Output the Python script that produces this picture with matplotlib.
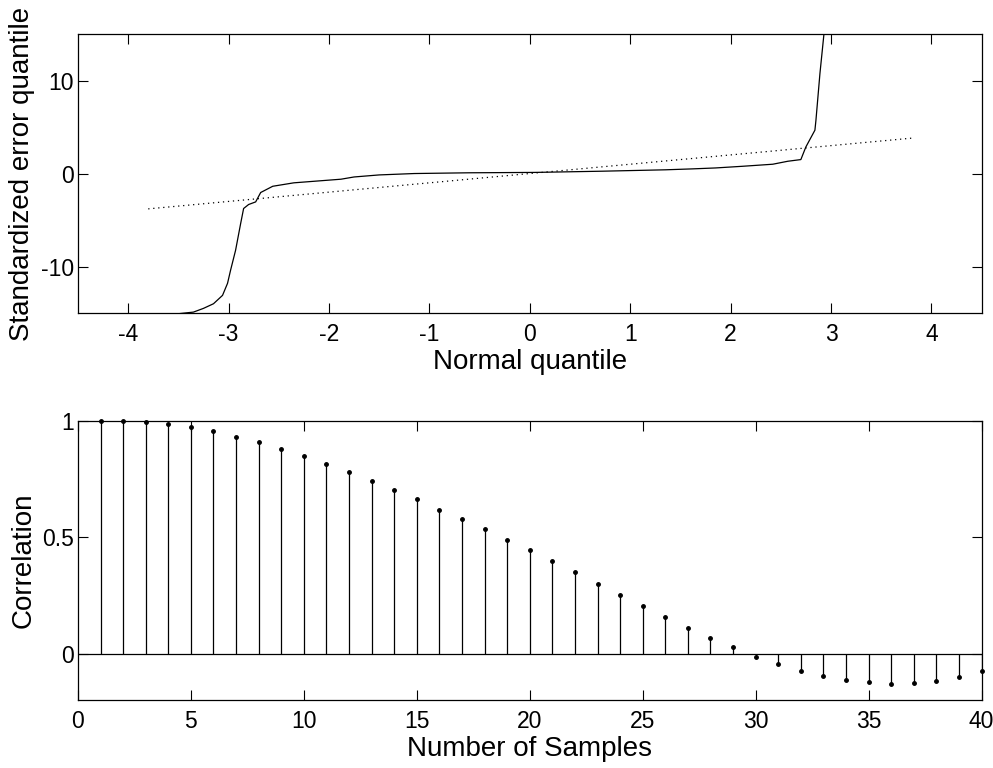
import matplotlib
matplotlib.use("Agg")
import matplotlib.pyplot as plt
import numpy as np

plt.rcParams['font.family'] = ['Liberation Sans', 'DejaVu Sans']

# --- Top panel: QQ plot data ---
qq_x = [-3.48, -3.35, -3.25, -3.15, -3.06, -3.01, -2.98, -2.93, -2.88, -2.85,
        -2.80, -2.73, -2.68, -2.56, -2.35, -1.88, -1.75, -1.50, -1.15, -0.60,
        0.05, 0.72, 1.35, 1.62, 1.85, 2.12, 2.42, 2.57, 2.70, 2.75, 2.84,
        2.85, 2.89, 2.93, 2.95]
qq_y = [-15.05, -14.9, -14.5, -14.0, -13.1, -11.8, -10.4, -8.25, -5.4, -3.76,
        -3.33, -3.05, -2.04, -1.37, -1.0, -0.61, -0.37, -0.15, 0.0, 0.08,
        0.12, 0.25, 0.40, 0.50, 0.60, 0.78, 1.0, 1.32, 1.5, 2.86, 4.66,
        5.7, 10.75, 15.0, 17.0]
ref_x = [-3.8, 3.8]
ref_y = [-3.8, 3.8]

# --- Bottom panel: correlation vs lag ---
lags = list(range(1, 41))
corr = [1.000, 0.999, 0.995, 0.987, 0.976, 0.956, 0.932, 0.908, 0.881, 0.849,
        0.815, 0.780, 0.742, 0.702, 0.663, 0.618, 0.579, 0.536, 0.489, 0.446,
        0.399, 0.351, 0.301, 0.250, 0.203, 0.156, 0.109, 0.067, 0.028, -0.015,
        -0.045, -0.073, -0.096, -0.112, -0.124, -0.131, -0.127, -0.119, -0.103, -0.076]

top_xticks = [-4, -3, -2, -1, 0, 1, 2, 3, 4]
top_yticks = [-10, 0, 10]
bot_xticks = [0, 5, 10, 15, 20, 25, 30, 35, 40]
bot_yticks = [0, 0.5, 1]

fig = plt.figure(figsize=(9.93, 7.68), dpi=100)
ax1 = fig.add_axes([0.0785, 0.5924, 0.910, 0.3633])
ax2 = fig.add_axes([0.0785, 0.0885, 0.910, 0.3633])

def style(ax):
    ax.tick_params(direction='in', length=7, width=0.8, top=True, right=True,
                   labelsize=16.5, colors='black')
    ax.tick_params(axis='y', pad=3)
    ax.tick_params(axis='x', pad=7)
    for s in ax.spines.values():
        s.set_linewidth(0.9)

ax1.plot(qq_x, qq_y, color='black', lw=0.9)
ax1.plot(ref_x, ref_y, color='black', lw=0.9, linestyle=(0, (1, 3)))
ax1.set_xlim(-4.5, 4.5)
ax1.set_ylim(-15, 15)
ax1.set_xticks(top_xticks)
ax1.set_yticks(top_yticks)
ax1.set_xticklabels([str(t) for t in top_xticks])
ax1.set_yticklabels([str(t) for t in top_yticks])
style(ax1)
ax1.set_xlabel('Normal quantile', fontsize=20, labelpad=2)
ax1.set_ylabel('Standardized error quantile', fontsize=20, labelpad=4)

markerline, stemlines, baseline = ax2.stem(lags, corr, linefmt='k-', markerfmt='k.', basefmt='k-')
markerline.set_markersize(5)
markerline.set_clip_on(False)
stemlines.set_linewidth(0.9)
baseline.set_visible(False)
ax2.axhline(0, color='black', lw=0.9)
ax2.set_xlim(0, 40)
ax2.set_ylim(-0.2, 1)
ax2.set_xticks(bot_xticks)
ax2.set_yticks(bot_yticks)
ax2.set_xticklabels([str(t) for t in bot_xticks])
ax2.set_yticklabels(['0', '0.5', '1'])
style(ax2)
ax2.set_xlabel('Number of Samples', fontsize=20, labelpad=2)
ax2.set_ylabel('Correlation', fontsize=20, labelpad=4)

fig.savefig('out.png', dpi=100)
